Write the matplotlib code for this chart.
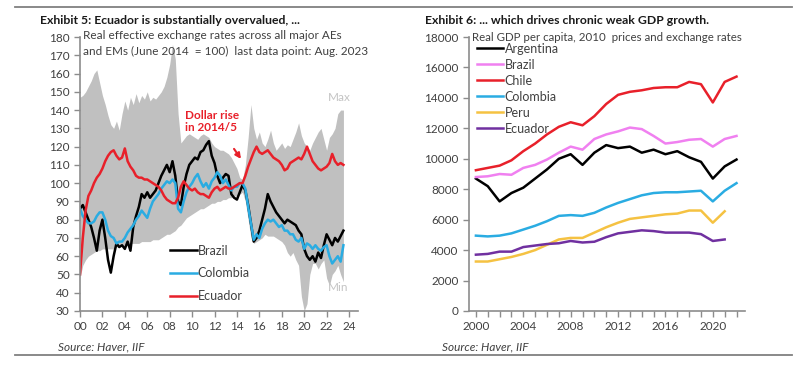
"""Exhibit 5/6: Ecuador REER vs peers, and real GDP per capita across LatAm."""
import matplotlib

matplotlib.use("Agg")
import matplotlib.pyplot as plt
import numpy as np
from matplotlib.ticker import FixedLocator, FuncFormatter

plt.rcParams["font.family"] = ["Lato", "DejaVu Sans"]

# ---------- Exhibit 5: REER, quarterly, 2000Q1 .. 2023Q3 (June 2014 = 100) ----------
reer_t = np.arange(2000, 2023.51, 0.25)
reer_max = [147, 148, 150, 153, 156, 160, 162, 155, 148, 143, 137, 132,
            130, 134, 129, 138, 145, 140, 147, 143, 149, 144, 148, 146,
            150, 145, 147, 146, 148, 150, 153, 158, 165, 176, 168, 138,
            122, 124, 126, 127, 126, 125, 124, 126, 127, 126, 125, 122,
            120, 119, 118, 118, 117, 116, 114, 111, 108, 103, 102, 110,
            125, 143, 130, 124, 128, 122, 120, 124, 129, 122, 118, 120,
            122, 119, 121, 120, 124, 128, 133, 126, 122, 120, 118, 122,
            125, 128, 130, 124, 118, 125, 127, 130, 138, 140, 140]
reer_min = [48, 55, 58, 60, 61, 62, 63, 63, 64, 64, 64, 64,
            64, 65, 66, 66, 66, 67, 67, 67, 67, 67, 68, 68,
            68, 68, 69, 69, 69, 70, 71, 72, 72, 73, 74, 76,
            77, 79, 81, 82, 83, 84, 85, 86, 86, 87, 88, 89,
            89, 90, 90, 91, 91, 92, 92, 93, 93, 94, 95, 90,
            80, 70, 67, 68, 69, 70, 72, 71, 71, 71, 70, 69,
            68, 66, 62, 60, 62, 58, 55, 38, 30, 34, 50, 56,
            56, 53, 56, 58, 48, 44, 50, 52, 55, 50, 46]
reer_brazil = [86, 88, 84, 80, 76, 70, 63, 74, 80, 70, 58, 51,
               60, 67, 65, 66, 64, 68, 63, 76, 82, 87, 94, 92,
               95, 92, 94, 96, 100, 104, 107, 110, 106, 112, 104, 90,
               88, 98, 105, 110, 112, 114, 113, 117, 118, 121, 123, 115,
               111, 104, 100, 103, 105, 104, 94, 92, 91, 95, 99, 96,
               88, 78, 68, 70, 74, 80, 86, 94, 90, 87, 84, 82,
               80, 78, 80, 79, 78, 77, 74, 72, 64, 60, 58, 60,
               57, 62, 59, 66, 72, 69, 66, 70, 68, 71, 74]
reer_colombia = [86, 82, 80, 78, 78, 79, 82, 84, 84, 80, 74, 71,
                 70, 67, 68, 68, 70, 73, 75, 77, 80, 82, 85, 83,
                 81, 86, 90, 92, 94, 97, 99, 101, 100, 102, 100, 86,
                 84, 90, 95, 98, 100, 103, 105, 101, 98, 100, 97, 101,
                 103, 106, 104, 100, 102, 99, 96, 98, 98, 100, 100, 97,
                 87, 78, 69, 72, 70, 75, 78, 80, 79, 80, 78, 76,
                 77, 74, 74, 72, 72, 69, 68, 70, 64, 67, 66, 64,
                 66, 64, 63, 65, 66, 60, 56, 58, 60, 57, 66]
reer_ecuador = [50, 70, 85, 93, 96, 100, 103, 105, 108, 112, 115, 117,
                118, 115, 113, 114, 119, 112, 109, 107, 104, 103, 103, 102,
                102, 101, 100, 99, 98, 96, 93, 91, 90, 89, 89, 92,
                98, 101, 99, 97, 96, 97, 95, 94, 94, 93, 92, 95,
                97, 98, 96, 97, 98, 97, 97, 98, 99, 100, 100, 104,
                109, 113, 117, 120, 117, 116, 117, 118, 116, 114, 113, 112,
                110, 107, 108, 111, 112, 113, 114, 113, 116, 120, 116, 112,
                110, 108, 107, 108, 109, 111, 116, 112, 110, 111, 110]

# ---------- Exhibit 6: real GDP per capita, annual ----------
gdp_years = list(range(2000, 2023))
gdp_argentina = [8700, 8200, 7200, 7750, 8100, 8700, 9300, 10000, 10300, 9600, 10400, 10900,
                 10700, 10800, 10400, 10600, 10300, 10500, 10100, 9800, 8700, 9500, 9950]
gdp_brazil = [8800, 8850, 9000, 8950, 9400, 9600, 9950, 10400, 10800, 10600, 11300, 11600,
              11800, 12050, 11950, 11500, 11000, 11100, 11250, 11300, 10800, 11300, 11500]
gdp_chile = [9250, 9400, 9550, 9900, 10500, 11000, 11600, 12100, 12400, 12200, 12800, 13600,
             14200, 14400, 14500, 14650, 14700, 14700, 15050, 14900, 13700, 15050, 15400]
gdp_colombia = [4950, 4900, 4950, 5100, 5350, 5600, 5900, 6250, 6300, 6250, 6450, 6800,
                7100, 7350, 7600, 7750, 7800, 7800, 7850, 7900, 7200, 7900, 8400]
gdp_peru = [3250, 3250, 3400, 3550, 3750, 4000, 4350, 4700, 4800, 4800, 5150, 5500,
            5800, 6050, 6150, 6250, 6350, 6400, 6600, 6600, 5800, 6550]
gdp_ecuador = [3700, 3750, 3900, 3900, 4200, 4300, 4400, 4450, 4600, 4500, 4550, 4850,
               5100, 5200, 5300, 5250, 5150, 5150, 5150, 5050, 4600, 4700]

RED = "#e8202a"
BLUE = "#2aace2"
GREY_TXT = "#404040"
SPINE = "#8c8c8c"


def style_axis(ax):
    for s in ("top", "right"):
        ax.spines[s].set_visible(False)
    for s in ("left", "bottom"):
        ax.spines[s].set_color(SPINE)
        ax.spines[s].set_linewidth(1.2)
    ax.tick_params(colors=SPINE, labelcolor=GREY_TXT, labelsize=8.5, length=4, width=1)


fig = plt.figure(figsize=(8, 3.72), dpi=100)

# ----- left panel -----
ax1 = fig.add_axes([0.1, 0.164, 0.3475, 0.7365])
ax1.fill_between(reer_t, reer_min, reer_max, color="#c0c0c0", lw=0)
ax1.plot(reer_t, reer_brazil, color="black", lw=1.8, label="Brazil")
ax1.plot(reer_t, reer_colombia, color=BLUE, lw=1.8, label="Colombia")
ax1.plot(reer_t, reer_ecuador, color=RED, lw=1.8, label="Ecuador")
ax1.set_xlim(2000, 2024.8)
ax1.set_ylim(30, 180)
ax1.yaxis.set_major_locator(FixedLocator(range(30, 181, 10)))
ax1.xaxis.set_major_locator(FixedLocator(range(2000, 2025, 2)))
ax1.xaxis.set_major_formatter(FuncFormatter(lambda v, _: f"{int(v) % 100:02d}"))
style_axis(ax1)
ax1.legend(loc="upper left", bbox_to_anchor=(0.325, 0.242), frameon=False, fontsize=9,
           handlelength=2.1, handletextpad=0.1, labelspacing=0.85, borderpad=0,
           borderaxespad=0, labelcolor=GREY_TXT)
ax1.text(0.01, 1.024, "Real effective exchange rates across all major AEs\n"
         "and EMs (June 2014  = 100)  last data point: Aug. 2023",
         transform=ax1.transAxes, ha="left", va="top", fontsize=8.5, color=GREY_TXT,
         linespacing=1.55)
ax1.text(0.89, 0.78, "Max", transform=ax1.transAxes, fontsize=8.5, color="#c4c4c4",
         ha="left", va="center")
ax1.text(0.89, 0.084, "Min", transform=ax1.transAxes, fontsize=8.5, color="#c4c4c4",
         ha="left", va="center")
ax1.text(0.378, 0.69, "Dollar rise\nin 2014/5", transform=ax1.transAxes, fontsize=8.5,
         color=RED, fontweight="bold", ha="left", va="center", linespacing=1.1)
ax1.annotate("", xy=(2014.5, 112), xytext=(2013.6, 120),
             arrowprops=dict(arrowstyle="-|>", color=RED, lw=1.5, mutation_scale=8))

# ----- right panel -----
ax2 = fig.add_axes([0.586, 0.164, 0.345, 0.7365])
ax2.plot(gdp_years, gdp_argentina, color="black", lw=1.8, label="Argentina")
ax2.plot(gdp_years, gdp_brazil, color="#f080f0", lw=1.8, label="Brazil")
ax2.plot(gdp_years, gdp_chile, color=RED, lw=1.8, label="Chile")
ax2.plot(gdp_years, gdp_colombia, color=BLUE, lw=1.8, label="Colombia")
ax2.plot(gdp_years[:len(gdp_peru)], gdp_peru, color="#f5c242", lw=1.8, label="Peru")
ax2.plot(gdp_years[:len(gdp_ecuador)], gdp_ecuador, color="#7030a0", lw=1.8, label="Ecuador")
ax2.set_xlim(1999.4, 2022.7)
ax2.set_ylim(0, 18000)
ax2.yaxis.set_major_locator(FixedLocator(range(0, 18001, 2000)))
ax2.xaxis.set_major_locator(FixedLocator(range(2000, 2021, 4)))
ax2.xaxis.set_minor_locator(FixedLocator(range(2000, 2023)))
style_axis(ax2)
ax2.tick_params(axis="x", which="minor", colors=SPINE, length=4, width=1)
ax2.legend(loc="upper left", bbox_to_anchor=(0.03, 0.979), frameon=False, fontsize=9,
           handlelength=2.1, handletextpad=0.1, labelspacing=0.32, borderpad=0,
           borderaxespad=0, labelcolor=GREY_TXT)
ax2.text(0.01, 1.0, "Real GDP per capita, 2010  prices and exchange rates",
         transform=ax2.transAxes, ha="left", va="center", fontsize=8.3, color=GREY_TXT)

# ----- titles, sources, rules -----
fig.text(40 / 800, 1 - 21 / 372, "Exhibit 5: Ecuador is substantially overvalued, ...",
         fontsize=8.8, fontweight="bold", color="#1a1a1a", va="center")
fig.text(425 / 800, 1 - 21 / 372, "Exhibit 6: ... which drives chronic weak GDP growth.",
         fontsize=8.8, fontweight="bold", color="#1a1a1a", va="center")
fig.text(58 / 800, 1 - 347 / 372, "Source: Haver, IIF", fontsize=8.5, style="italic",
         color=GREY_TXT, va="center")
fig.text(442 / 800, 1 - 347 / 372, "Source: Haver, IIF", fontsize=8.5, style="italic",
         color=GREY_TXT, va="center")
for y in (1 - 7 / 372, 1 - 355 / 372):
    fig.add_artist(plt.Line2D([15 / 800, 792 / 800], [y, y], transform=fig.transFigure,
                              color="#808080", lw=1.3))

fig.savefig("out.png", dpi=100)
